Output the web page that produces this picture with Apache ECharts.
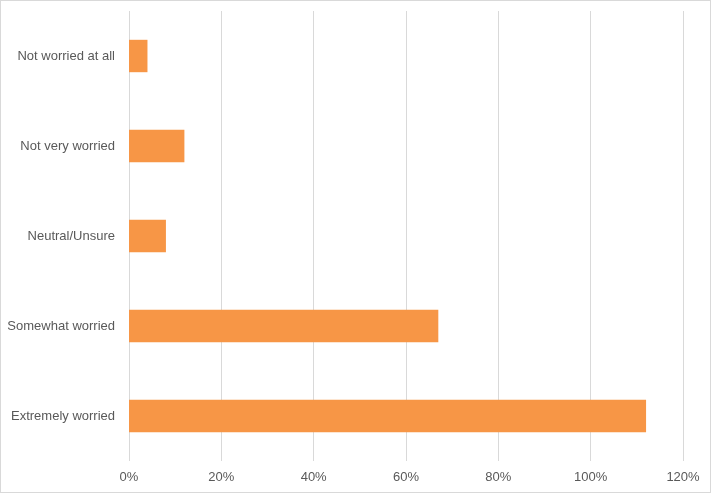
<!DOCTYPE html>
<html style="height: 100%">
<head>
    <meta charset="utf-8">
    <style>
        body{margin: 0; background: #fff;}
        #container{width: 709px; height: 491px; border: 1px solid #d9d9d9;}
    </style>
</head>
<body>
<div id="container"></div>
<script src="https://cdn.jsdelivr.net/npm/echarts@6/dist/echarts.min.js"></script>
<script type="text/javascript">
    var categories = ["Extremely worried", "Somewhat worried", "Neutral/Unsure", "Not very worried", "Not worried at all"];
    var values = [112, 67, 8, 12, 4];
    var xTicks = [0, 20, 40, 60, 80, 100, 120];

    var myChart = echarts.init(document.getElementById("container"));

    var option = {
        animation: false,
        grid: {left: 128, right: 27, top: 10, bottom: 31},
        xAxis: {
            type: 'value',
            min: xTicks[0],
            max: xTicks[xTicks.length - 1],
            interval: 20,
            axisLine: {show: false},
            axisTick: {show: false},
            axisLabel: {
                color: '#595959',
                fontFamily: 'Liberation Sans',
                fontSize: 13,
                margin: 10,
                formatter: '{value}%'
            },
            splitLine: {lineStyle: {color: '#d9d9d9', width: 1}}
        },
        yAxis: {
            type: 'category',
            data: categories,
            axisLine: {show: false},
            axisTick: {show: false},
            axisLabel: {
                color: '#595959',
                fontFamily: 'Liberation Sans',
                fontSize: 13,
                margin: 14
            }
        },
        series: [{
            type: 'bar',
            data: values,
            barWidth: '36%',
            itemStyle: {color: '#F79646'}
        }]
    };

    myChart.setOption(option);
</script>
</body>
</html>
